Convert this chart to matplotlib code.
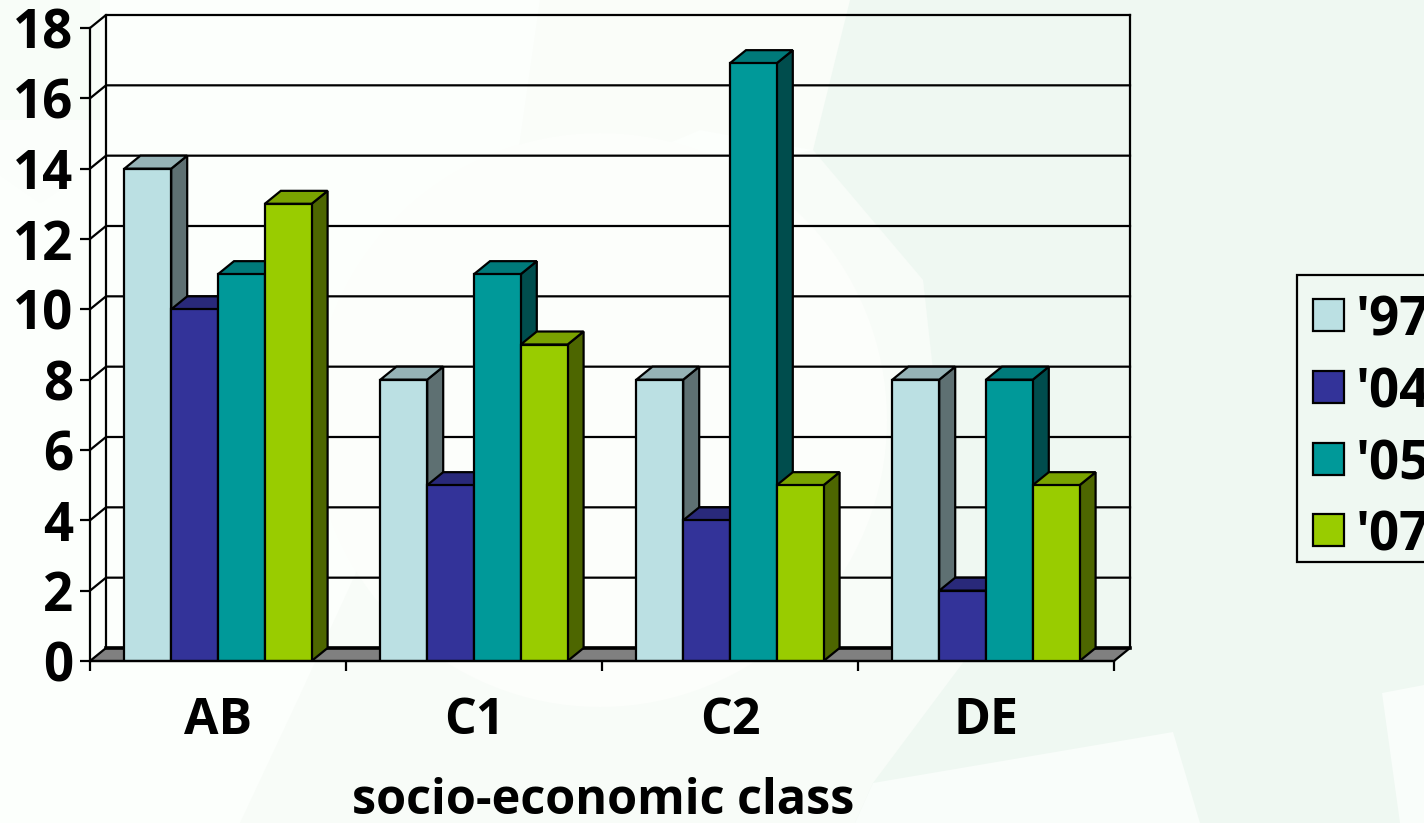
import matplotlib
matplotlib.use("Agg")
import matplotlib.pyplot as plt
import numpy as np
from matplotlib.patches import Circle, Polygon, Rectangle
from matplotlib.transforms import IdentityTransform

classes = ["AB", "C1", "C2", "DE"]
years = ["'97", "'04", "'05", "'07"]
vals_97 = [14, 8, 8, 8]
vals_04 = [10, 5, 4, 2]
vals_05 = [11, 11, 17, 8]
vals_07 = [13, 9, 5, 5]
y_ticks = [0, 2, 4, 6, 8, 10, 12, 14, 16, 18]

series = [vals_97, vals_04, vals_05, vals_07]
front = ["#BBE0E3", "#333399", "#009999", "#99CC00"]
top = ["#96B3B6", "#29297A", "#007A7A", "#7AA300"]
side = ["#5E7072", "#1A1A4D", "#004D4D", "#4D6600"]

W, H = 1424, 823
DX, DY = 16, 13  # depth of the fake 3d, pixels
LW = 1.6
FONT = "Open Sans"

fig = plt.figure(figsize=(W / 100, H / 100), dpi=100)

# background and legend live in a pixel axes
bg = fig.add_axes([0, 0, 1, 1])
bg.set_xlim(0, W)
bg.set_ylim(H, 0)
bg.axis("off")
bg.add_patch(Rectangle((0, 0), W, H, fc="#FCFFFC", ec="none"))
bg.add_patch(Polygon([(540, 0), (850, 0), (813, 150), (700, 130), (510, 210)], fc="#FAFDF9", ec="none"))
bg.add_patch(Polygon([(300, 695), (240, H), (860, H), (965, 660), (923, 280), (813, 150), (520, 215)],
                     fc="#F8FCF8", ec="none"))
bg.add_patch(Circle((600, 420), 287, fc="#FCFEFB", ec="none"))
bg.add_patch(Polygon([(850, 0), (W, 0), (W, H), (855, H), (873, 783), (965, 660), (923, 280), (813, 150)],
                     fc="#EFF8F2", ec="none"))
bg.add_patch(Polygon([(873, 783), (1173, 732), (1200, H), (855, H)], fc="#F9FDFA", ec="none"))
bg.add_patch(Polygon([(1382, 693), (W, 685), (W, H), (1400, H)], fc="#F9FDFA", ec="none"))
bg.add_patch(Polygon([(0, 0), (100, 0), (100, 120), (0, 120)], fc="#F8FDF8", ec="none"))
bg.add_patch(Polygon([(0, 120), (90, 120), (90, 170), (40, 203), (0, 175)], fc="#FBFEFB", ec="none"))

# legend box runs off the right edge like the original
bg.add_patch(Rectangle((1296.5, 275), 200, 287, fc="#EFF8F2", ec="black", lw=LW))
leg_y = [315, 386.5, 458.5, 530]
for name, col, yy in zip(years, front, leg_y):
    bg.add_patch(Rectangle((1312.5, yy - 16), 31, 32, fc=col, ec="black", lw=LW))
    bg.text(1356, yy, name, fontsize=38, fontweight="bold", family=FONT,
            ha="left", va="center_baseline", color="black")

ax = fig.add_axes([90 / W, 1 - 661 / H, 1024 / W, 633 / H])
ax.patch.set_alpha(0)
ax.set_xlim(0, 4)
ax.set_ylim(0, 18)
for s in ["top", "right"]:
    ax.spines[s].set_visible(False)
for s in ["left", "bottom"]:
    ax.spines[s].set_linewidth(LW)
    ax.spines[s].set_zorder(30)


def px(x, y, deep=False):
    p = ax.transData.transform((x, y))
    return (p[0] + DX, p[1] + DY) if deep else tuple(p)


def face(pts, col, z):
    ax.add_patch(Polygon(pts, closed=True, fc=col, ec="black", lw=LW,
                         transform=IdentityTransform(), zorder=z, clip_on=False))


def wall_line(pts, lw=LW):
    ax.plot(*zip(*pts), color="black", lw=lw, transform=IdentityTransform(),
            zorder=1, clip_on=False)


# walls and floor
for v in y_ticks[1:]:
    wall_line([px(0, v), px(0, v, True), px(4, v, True)])
wall_line([px(0, 0, True), px(0, 18, True)])
wall_line([px(4, 0, True), px(4, 18, True)])
face([px(0, 0), px(0, 0, True), px(4, 0, True), px(4, 0)], "#808080", 2)
ax.plot(*zip(px(0, 0, True), px(4, 0, True)), color="black", lw=2.6,
        transform=IdentityTransform(), zorder=2, clip_on=False)

# bars, left to right so each one hides the side of the one before
bw = 46.8 / 256
z = 3
for i in range(len(classes)):
    for j, vals in enumerate(series):
        x0 = i + 0.5 + (j - 2) * bw
        x1 = x0 + bw
        v = vals[i]
        face([px(x1, 0), px(x1, 0, True), px(x1, v, True), px(x1, v)], side[j], z)
        face([px(x0, v), px(x0, v, True), px(x1, v, True), px(x1, v)], top[j], z)
        ax.bar(x0, v, bw, align="edge", color=front[j], edgecolor="black", linewidth=LW, zorder=z + 1)
        z += 2

ax.set_xlim(0, 4)
ax.set_ylim(0, 18)
ax.set_yticks(y_ticks)
ax.set_xticks(range(5))
ax.set_xticklabels([])
ax.set_xticks(np.arange(len(classes)) + 0.5, labels=classes, minor=True)
ax.tick_params(axis="both", which="major", length=7.2, width=LW, pad=5)
ax.tick_params(axis="x", which="minor", length=0, pad=25)
for lab in ax.get_yticklabels():
    lab.set_fontsize(38)
    lab.set_fontweight("bold")
    lab.set_family(FONT)
for lab in ax.get_xticklabels(minor=True):
    lab.set_fontsize(36)
    lab.set_fontweight("bold")
    lab.set_family(FONT)

bg.text(603, 802, "socio-economic class", fontsize=35, fontweight="bold", family=FONT,
        ha="center", va="center", color="black")

fig.savefig("out.png", dpi=100)
